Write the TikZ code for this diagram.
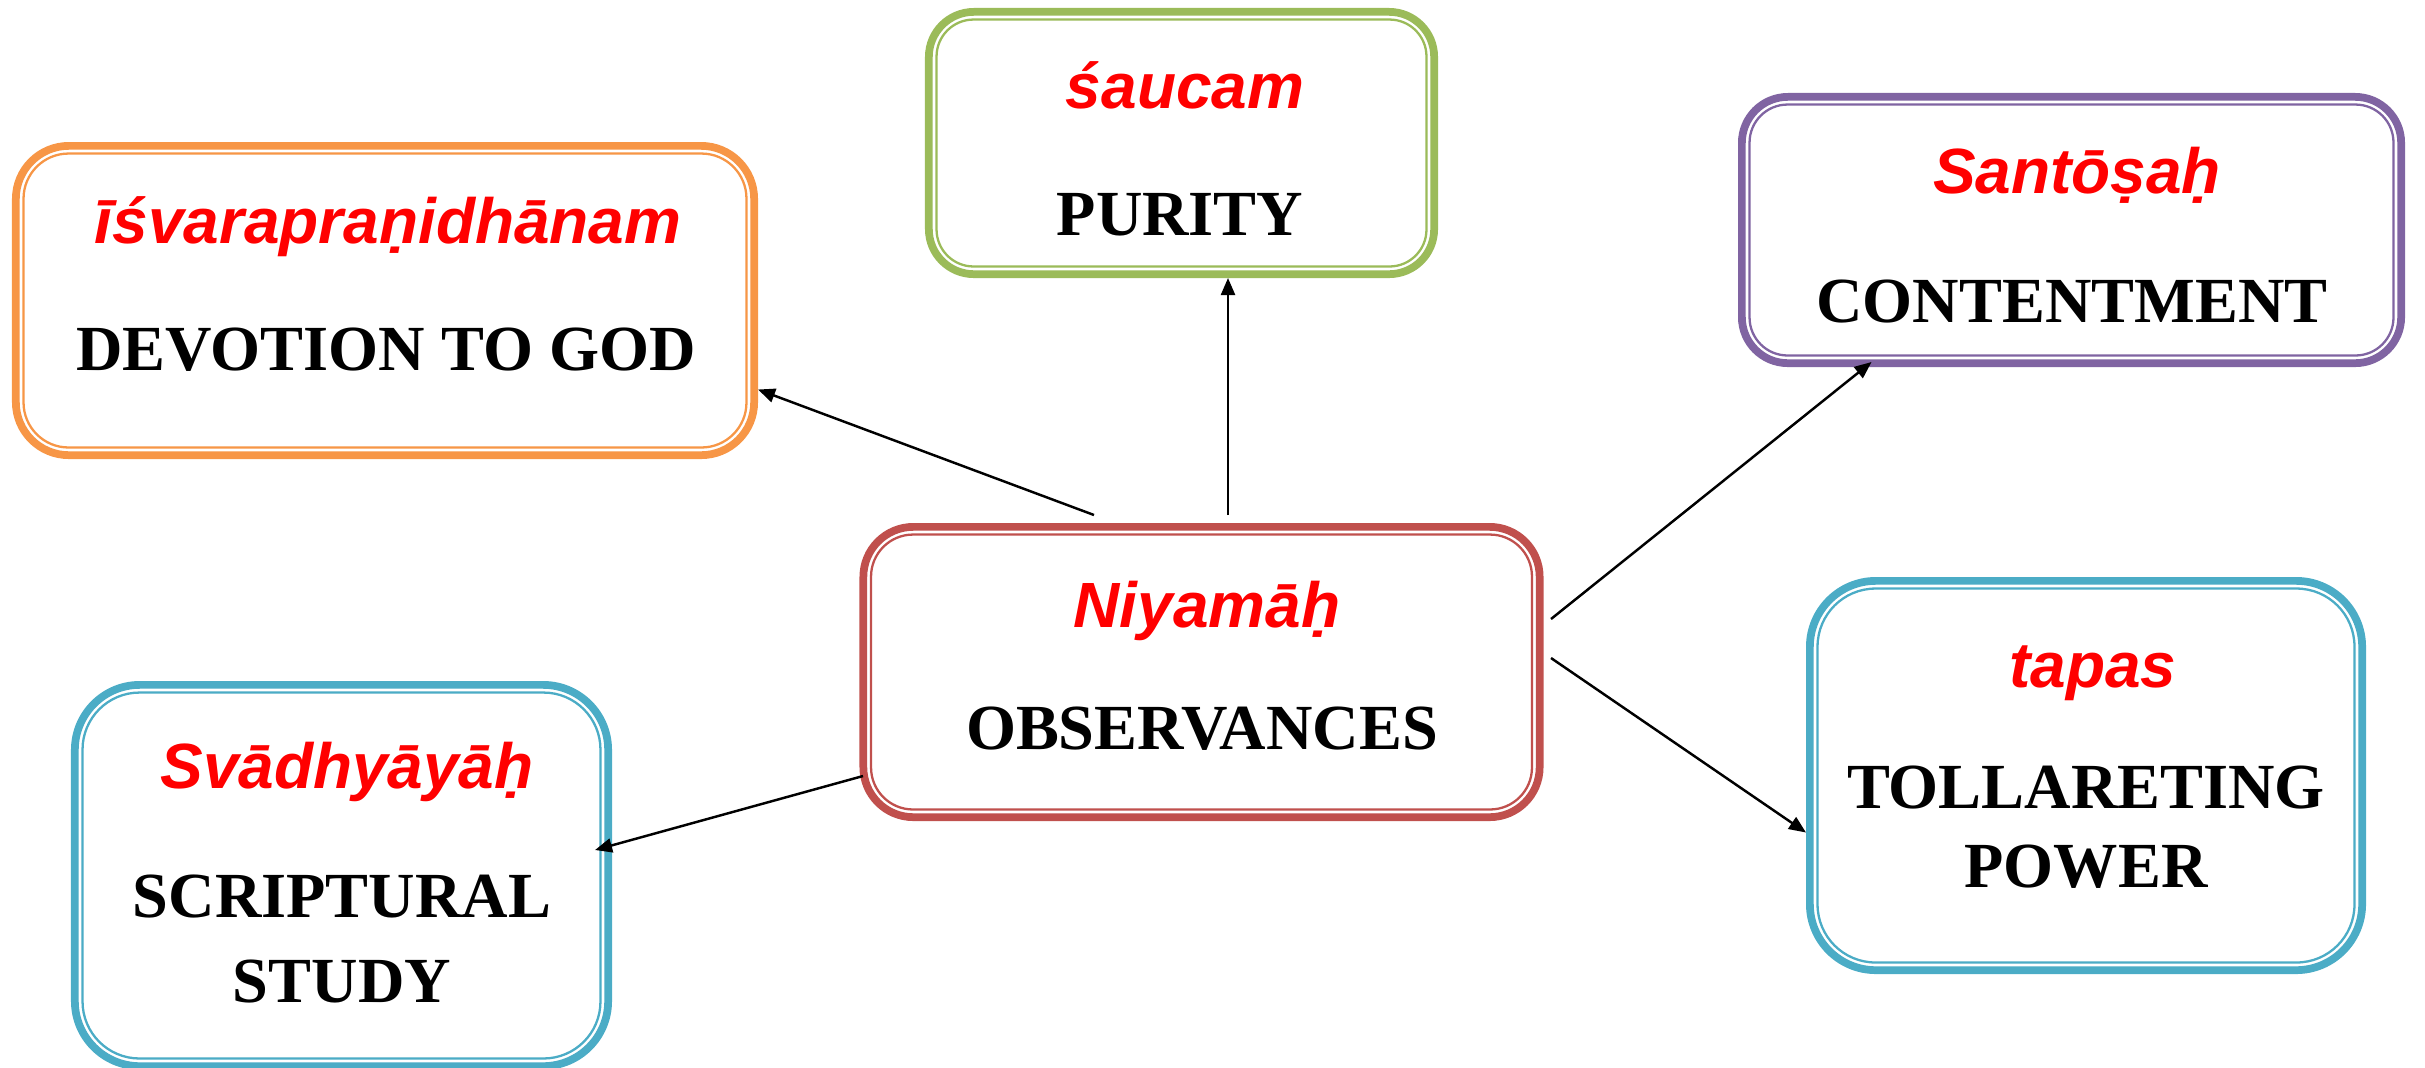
\documentclass[tikz,border=0pt]{standalone}
\usepackage{fontspec}
\setmainfont{Liberation Serif}
\newfontfamily\sktfont{Liberation Sans}
\usetikzlibrary{arrows.meta}

\definecolor{boxorange}{HTML}{F79646}
\definecolor{boxgreen}{HTML}{9BBB59}
\definecolor{boxpurple}{HTML}{8064A2}
\definecolor{boxred}{HTML}{C0504D}
\definecolor{boxblue}{HTML}{4BACC6}
\definecolor{termred}{HTML}{FF0000}

\tikzset{
  framebox/.style={draw, fill=white, line width=2.2pt, outer sep=1.1pt, inner sep=0pt},
  innerline/.style={line width=0.65pt},
  term/.style={anchor=base, inner sep=0pt, text=termred,
    font=\sktfont\bfseries\itshape\fontsize{18.2pt}{20pt}\selectfont},
  gloss/.style={anchor=base, inner sep=0pt, text=black,
    font=\bfseries\fontsize{18.3pt}{20pt}\selectfont},
  arr/.style={line width=0.7pt, -{Triangle[length=0.17cm,width=0.14cm]}}
}

% #1 name, #2 x, #3 y, #4 width, #5 height, #6 colour, #7 corner radius (all in cm)
\newcommand\yamabox[7]{%
  \node[framebox, draw=#6, minimum width=#4cm-0.077cm, minimum height=#5cm-0.077cm,
        rounded corners=#7cm] (#1) at (#2,#3) {};
  \draw[innerline, #6, rounded corners=#7cm-0.08cm]
    ([shift={(0.1155,0.1155)}]#1.south west) rectangle ([shift={(-0.1155,-0.1155)}]#1.north east);
}

\begin{document}
\begin{tikzpicture}
\useasboundingbox (0,0) rectangle (24.25,-10.67);

% framed boxes
\yamabox{dev}{3.85}{-3.005}{7.46}{3.17}{boxorange}{0.53}
\yamabox{pur}{11.815}{-1.43}{5.13}{2.70}{boxgreen}{0.45}
\yamabox{con}{20.715}{-2.30}{6.67}{2.74}{boxpurple}{0.46}
\yamabox{niy}{12.015}{-6.72}{6.84}{2.98}{boxred}{0.50}
\yamabox{tap}{20.86}{-7.755}{5.60}{3.97}{boxblue}{0.66}
\yamabox{svd}{3.415}{-8.755}{5.41}{3.89}{boxblue}{0.65}

% Sanskrit terms and their glosses
\node[term] (devS) at (3.88,-2.43) {īśvarapraṇidhānam};
\node[gloss] (devE) at (3.86,-3.70) {DEVOTION TO GOD};

\node[term] (purS) at (11.85,-1.08) {śaucam};
\node[gloss] (purE) at (11.80,-2.35) {PURITY};

\node[term] (conS) at (20.77,-1.93) {Santōṣaḥ};
\node[gloss] (conE) at (20.72,-3.22) {CONTENTMENT};

\node[term] (niyS) at (12.07,-6.27) {Niyamāḥ};
\node[gloss] (niyE) at (12.02,-7.49) {OBSERVANCES};

\node[term] (tapS) at (20.93,-6.87) {tapas};
\node[gloss] (tapE1) at (20.86,-8.08) {TOLLARETING};
\node[gloss] (tapE2) at (20.86,-8.87) {POWER};

\node[term] (svdS) at (3.47,-7.88) {Svādhyāyāḥ};
\node[gloss] (svdE1) at (3.42,-9.17) {SCRIPTURAL};
\node[gloss] (svdE2) at (3.42,-10.02) {STUDY};

% connectors from the central box
\coordinate (s1) at (10.94,-5.15);
\coordinate (s2) at (12.28,-5.15);
\coordinate (s3) at (15.51,-6.19);
\coordinate (s4) at (15.51,-6.58);
\coordinate (s5) at (8.63,-7.76);

\draw[arr] (s1) -- ([yshift=-0.89cm]dev.east);
\draw[arr] (s2) -- ([xshift=0.465cm]pur.south);
\draw[arr] (s3) -- ([xshift=-2.0cm,yshift=0.05cm]con.south);
\draw[arr] (s4) -- ([yshift=-0.57cm]tap.west);
\draw[arr] (s5) -- ([xshift=-0.17cm,yshift=0.255cm]svd.east);
\end{tikzpicture}
\end{document}
